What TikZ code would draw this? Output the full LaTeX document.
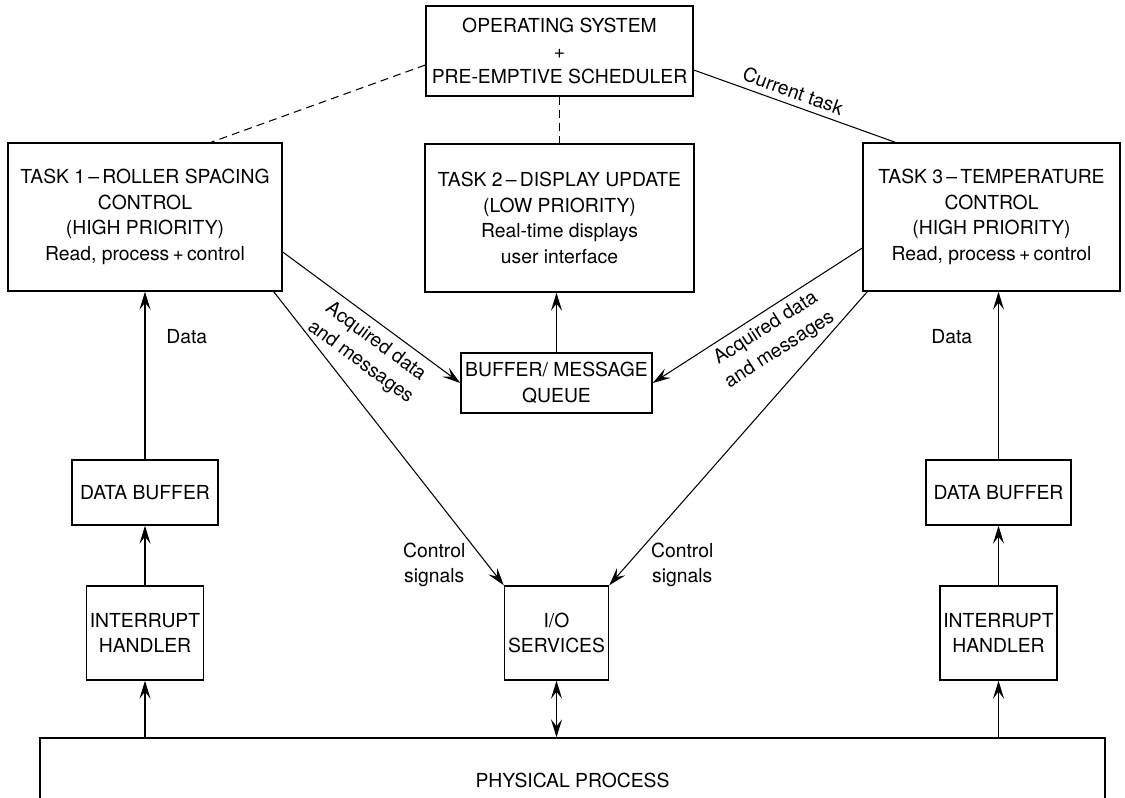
\documentclass[tikz,border=0pt]{standalone}
\usepackage{fontspec}
\setmainfont{TeX Gyre Heros}
\usetikzlibrary{arrows.meta, positioning}

\begin{document}
\begin{tikzpicture}[
    >={Stealth[length=3.6mm, width=2.2mm, inset=1.4mm]},
    every node/.style={font=\fontsize{11}{14.5}\selectfont, align=center},
    block/.style={draw, line width=0.8pt, inner sep=2pt},
    conn/.style={line width=0.6pt},
    dsh/.style={conn, dash pattern=on 4.5pt off 3pt}
]
    \useasboundingbox (0,0) rectangle (22.5,-15.94);

    \node [block, minimum width=5.34cm, minimum height=1.8cm] (os) at (11.19,-1.02)
        {OPERATING SYSTEM\\+\\PRE-EMPTIVE SCHEDULER};
    \node [block, minimum width=5.48cm, minimum height=2.96cm] (t1) at (2.90,-4.34)
        {TASK 1\,\textendash\,ROLLER SPACING\\CONTROL\\(HIGH PRIORITY)\\Read, process\,+\,control};
    \node [block, minimum width=5.38cm, minimum height=2.96cm] (t2) at (11.19,-4.36)
        {TASK 2\,\textendash\,DISPLAY UPDATE\\(LOW PRIORITY)\\Real-time displays\\user interface};
    \node [block, minimum width=5.14cm, minimum height=2.96cm] (t3) at (19.83,-4.34)
        {TASK 3\,\textendash\,TEMPERATURE\\CONTROL\\(HIGH PRIORITY)\\Read, process\,+\,control};
    \node [block, minimum width=3.82cm, minimum height=1.2cm] (buf) at (11.13,-7.66)
        {BUFFER/ MESSAGE\\QUEUE};
    \node [block, minimum width=2.92cm, minimum height=1.3cm] (db1) at (2.90,-9.85) {DATA BUFFER};
    \node [block, minimum width=2.32cm, minimum height=1.88cm] (ih1) at (2.90,-12.66) {INTERRUPT\\HANDLER};
    \node [block, minimum width=2.02cm, minimum height=1.88cm] (io) at (11.13,-12.66) {I/O\\SERVICES};
    \node [block, minimum width=2.90cm, minimum height=1.3cm] (db2) at (19.97,-9.85) {DATA BUFFER};
    \node [block, minimum width=2.30cm, minimum height=1.88cm] (ih2) at (19.97,-12.66) {INTERRUPT\\HANDLER};
    \node [block, minimum width=21.3cm, minimum height=1.68cm] (pp) at (11.45,-15.60) {PHYSICAL PROCESS};

    % scheduler links
    \draw[dsh] ([yshift=-0.28cm]os.west) -- ([xshift=1.32cm]t1.north);
    \draw[dsh] (os.south) -- (t2.north);
    \draw[conn] ([yshift=-0.38cm]os.east) -- node[sloped, above, pos=0.47] (lcur) {Current task}
        ([xshift=0.66cm]t3.north west);

    % data paths
    \draw[conn, ->] (db1.north) -- node[pos=0.73, right=0.3cm] (ldat1) {Data} (t1.south);
    \draw[conn, ->] (db2.north) -- node[pos=0.73, left=0.4cm] (ldat3) {Data} (db2.north |- t3.south);
    \draw[conn, ->] (ih1) -- (db1);
    \draw[conn, ->] (ih2) -- (db2);
    \draw[conn, ->] (ih1.south |- pp.north) -- (ih1.south);
    \draw[conn, ->] (ih2.south |- pp.north) -- (ih2.south);
    \draw[conn, <->] (io.south) -- (io.south |- pp.north);
    \draw[conn, ->] (buf.north) -- (buf.north |- t2.south);

    \draw[conn, ->] ([yshift=-0.7cm]t1.east) -- node[sloped, below=1pt, pos=0.58] (lacq1)
        {Acquired data\\and messages} (buf.west);
    \draw[conn, <-] (buf.east) -- node[sloped, below, pos=0.5] (lacq3)
        {Acquired data\\and messages} ([yshift=-0.62cm]t3.west);

    \draw[conn, ->] ([xshift=-0.18cm]t1.south east) -- node[pos=0.93, left=0.32cm] (lctl1)
        {Control\\signals} (io.north west);
    \draw[conn, ->] ([xshift=0.1cm]t3.south west) -- node[pos=0.93, right=0.35cm] (lctl3)
        {Control\\signals} (io.north east);
\end{tikzpicture}
\end{document}
